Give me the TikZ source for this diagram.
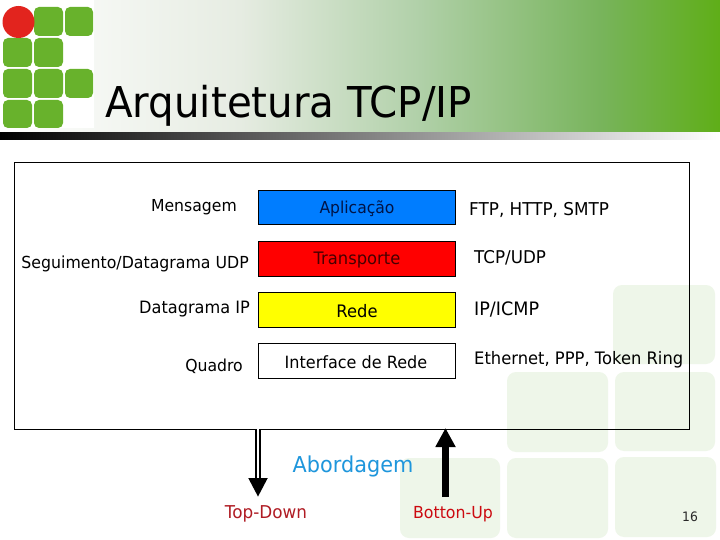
\documentclass[tikz,border=0pt]{standalone}
\usepackage{fontspec}
\setmainfont[FakeStretch=0.95]{DejaVu Sans}
\usetikzlibrary{arrows.meta}
\definecolor{wm}{RGB}{238,246,233}
\definecolor{lg}{RGB}{104,178,44}
\definecolor{lr}{RGB}{226,36,30}
\definecolor{pureyellow}{RGB}{255,255,0}
\definecolor{purered}{RGB}{255,0,0}
\definecolor{blueb}{RGB}{0,125,255}
\newcommand{\fsz}[1]{\fontsize{#1}{20}\selectfont}
\tikzset{
 wmark/.style={fill=wm,draw=none,rounded corners=9pt},
 lsq/.style={fill=lg,draw=none,rounded corners=5pt},
 lay/.style={draw=black,line width=0.7pt,minimum width=197pt,minimum height=34.5pt,inner sep=0pt,anchor=north west},
 lbl/.style={inner sep=0pt,font=\fsz{17.2}},
}
\begin{document}
\begin{tikzpicture}[x=1pt,y=-1pt]
\useasboundingbox (0,0) rectangle (720,540);
\fill[white] (0,0) rectangle (720,540);
% header gradient
\shade[left color=white,right color={rgb,255:red,230;green,236;blue,226},draw=none] (0,0) rectangle (240.5,133);
\shade[left color={rgb,255:red,230;green,236;blue,226},right color={rgb,255:red,176;green,208;blue,168},draw=none] (240,0) rectangle (420.5,133);
\shade[left color={rgb,255:red,176;green,208;blue,168},right color={rgb,255:red,120;green,180;blue,92},draw=none] (420,0) rectangle (600.5,133);
\shade[left color={rgb,255:red,120;green,180;blue,92},right color={rgb,255:red,95;green,174;blue,24},draw=none] (600,0) rectangle (720,133);
\shade[left color=black,right color=white,draw=none] (0,133) rectangle (720,140);
% watermark
\fill[wmark] (613,285) rectangle (715,364);
\fill[wmark] (507,372) rectangle (608,452);
\fill[wmark] (615,372) rectangle (715,451);
\fill[wmark] (400,458) rectangle (500,538);
\fill[wmark] (507,458) rectangle (608,538);
\fill[wmark] (615,457) rectangle (716,537);
% logo
\fill[white] (0,0) rectangle (94,128);
\fill[lsq] (34,7) rectangle (63,36);
\fill[lsq] (65,7) rectangle (93,36);
\fill[lsq] (3,38) rectangle (32,67);
\fill[lsq] (34,38) rectangle (63,67);
\fill[lsq] (3,69) rectangle (32,98);
\fill[lsq] (34,69) rectangle (63,98);
\fill[lsq] (65,69) rectangle (93,98);
\fill[lsq] (3,100) rectangle (32,128);
\fill[lsq] (34,100) rectangle (63,128);
\fill[lr] (18.5,22) circle[radius=16];
% title
\node[anchor=base west,inner sep=0pt,font=\fontsize{42.5}{46}\selectfont] (title) at (105,118) {Arquitetura TCP/IP};
% frame
\node[draw=black,line width=0.7pt,fill=none,minimum width=675pt,minimum height=266.5pt,inner sep=0pt,anchor=north west] (frame) at (14,162) {};
% layers
\node[lay,fill=blueb] (apl) at (258,190) {};
\node[lbl,font=\fsz{16.4},text={rgb,255:red,0;green,20;blue,70}] (aplt) at (357,209) {Aplicação};
\node[lay,fill=purered] (tra) at (258,241) {};
\node[lbl,text={rgb,255:red,70;green,0;blue,0}] (trat) at (357,260.5) {Transporte};
\node[lay,fill=pureyellow] (red) at (258,292) {};
\node[lbl] (redt) at (357,311.5) {Rede};
\node[lay,fill=white] (int) at (258,343) {};
\node[lbl,font=\fsz{16.9}] (intt) at (356,362.5) {Interface de Rede};
% left
\node[lbl,font=\fsz{16.5},anchor=east] (l1) at (237,207) {Mensagem};
\node[lbl,font=\fsz{16.6},anchor=east] (l2) at (249,264) {Seguimento/Datagrama UDP};
\node[lbl,font=\fsz{17},anchor=east] (l3) at (250,309) {Datagrama IP};
\node[lbl,font=\fsz{16.5},anchor=east] (l4) at (243,366) {Quadro};
% right
\node[lbl,font=\fsz{17.7},anchor=west] (r1) at (469,210) {FTP, HTTP, SMTP};
\node[lbl,font=\fsz{17.6},anchor=west] (r2) at (474,258) {TCP/UDP};
\node[lbl,font=\fsz{18.5},anchor=west] (r3) at (474,309) {IP/ICMP};
\node[lbl,anchor=west] (r4) at (474,360) {Ethernet, PPP, Token Ring};
% arrows
\coordinate (dtop) at (258,429);
\coordinate (dend) at (258,497);
\coordinate (utop) at (445.5,428);
\coordinate (uend) at (445.5,497);
\draw[line width=6pt,-{Triangle[length=19pt,width=18pt]}] (dtop) -- (dend);
\draw[white,line width=2pt,shorten >=19pt] (dtop) -- (dend);
\draw[line width=7pt,-{Triangle[length=19pt,width=19pt]}] (uend) -- (utop);
% labels
\node[lbl,text={rgb,255:red,30;green,150;blue,220},font=\fsz{21.9}] (ab) at (353,466) {Abordagem};
\node[lbl,text={rgb,255:red,176;green,28;blue,36},font=\fsz{17.7}] (td) at (266,514) {Top-Down};
\node[lbl,text={rgb,255:red,204;green,10;blue,16},font=\fsz{16.6}] (bu) at (453,514) {Botton-Up};
\node[lbl,font=\fsz{13},text={rgb,255:red,40;green,40;blue,40}] (pg) at (690,517) {16};
\end{tikzpicture}
\end{document}
